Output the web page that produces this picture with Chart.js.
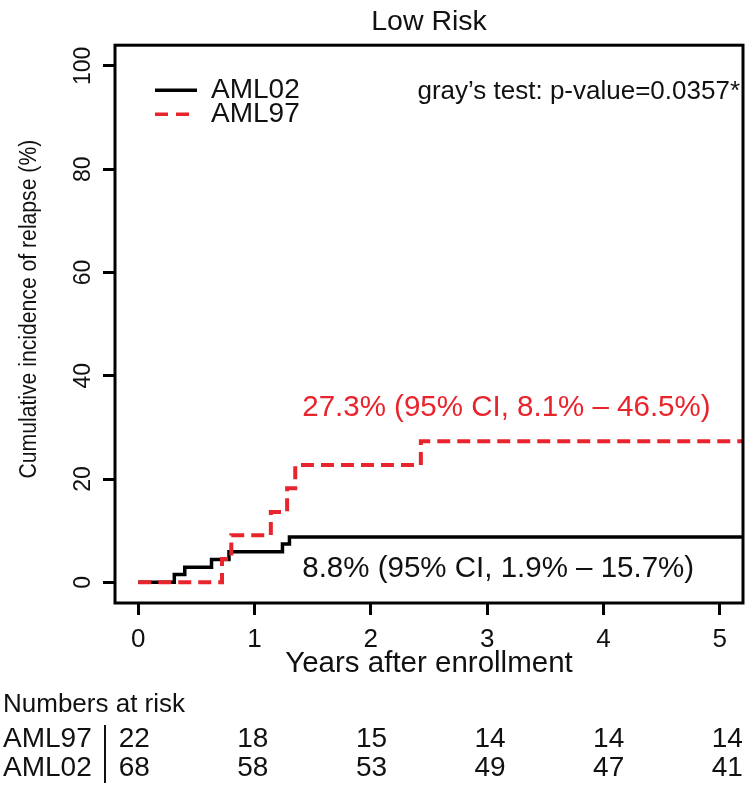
<!DOCTYPE html>
<html>
<head>
<meta charset="utf-8">
<title>Low Risk</title>
<script src="https://cdn.jsdelivr.net/npm/chart.js@4.4.1/dist/chart.umd.min.js"></script>
<style>
  html, body { margin: 0; padding: 0; background: #fff; }
  canvas { display: block; }
</style>
</head>
<body>
<canvas id="grafico" width="748" height="785"></canvas>
<script>
// ===== Dados =====
const yearTicks = [0, 1, 2, 3, 4, 5];
const pctTicks = [0, 20, 40, 60, 80, 100];

const yearsAML02 = [0, 0.31, 0.40, 0.63, 0.78, 1.24, 1.30, 5.2];
const cumIncAML02 = [0, 1.5, 2.9, 4.4, 5.9, 7.4, 8.8, 8.8];

const yearsAML97 = [0, 0.72, 0.80, 1.14, 1.28, 1.35, 2.43, 5.2];
const cumIncAML97 = [0, 4.5, 9.1, 13.6, 18.2, 22.7, 27.3, 27.3];

const riskTimes = [0, 1, 2, 3, 4, 5];
const atRiskAML97 = [22, 18, 15, 14, 14, 14];
const atRiskAML02 = [68, 58, 53, 49, 47, 41];

const FONT = '"Liberation Sans", Arial, Helvetica, sans-serif';
const RED = '#e8242c';

Chart.defaults.font.family = FONT;
Chart.defaults.color = '#111';

const toPoints = (xs, ys) => xs.map((t, i) => ({ x: t, y: ys[i] }));

// ===== Caixa, título do eixo y, legenda, anotações e tabela =====
const overlay = {
  id: 'overlay',
  afterDatasetsDraw(chart) {
    const { ctx, chartArea: a, scales: { x, y } } = chart;
    ctx.save();

    // caixa do gráfico
    ctx.strokeStyle = '#000';
    ctx.lineWidth = 3;
    ctx.strokeRect(a.left, a.top, a.right - a.left, a.bottom - a.top);

    // título do eixo y
    ctx.save();
    ctx.translate(30, (a.top + a.bottom) / 2 - 15);
    ctx.rotate(-Math.PI / 2);
    ctx.scale(0.92, 1);
    ctx.fillStyle = '#111';
    ctx.font = '23px ' + FONT;
    ctx.textAlign = 'center';
    ctx.textBaseline = 'middle';
    ctx.fillText('Cumulative incidence of relapse (%)', 0, 0);
    ctx.restore();

    // legenda
    const lx = a.left + 40, ly1 = a.top + 45, ly2 = a.top + 69;
    ctx.lineWidth = 3.5;
    ctx.strokeStyle = '#000';
    ctx.setLineDash([]);
    ctx.beginPath(); ctx.moveTo(lx, ly1); ctx.lineTo(lx + 42, ly1); ctx.stroke();
    ctx.strokeStyle = RED;
    ctx.setLineDash([13, 8]);
    ctx.beginPath(); ctx.moveTo(lx, ly2); ctx.lineTo(lx + 42, ly2); ctx.stroke();
    ctx.setLineDash([]);
    ctx.fillStyle = '#111';
    ctx.font = '28px ' + FONT;
    ctx.textBaseline = 'middle';
    ctx.textAlign = 'left';
    ctx.fillText('AML02', lx + 56, ly1);
    ctx.fillText('AML97', lx + 56, ly2);

    // teste de Gray
    ctx.font = '26px ' + FONT;
    ctx.textAlign = 'right';
    ctx.fillText('gray\u2019s test: p-value=0.0357*', a.right - 3, a.top + 47);

    // rótulos das curvas
    ctx.font = '29.5px ' + FONT;
    ctx.textAlign = 'left';
    ctx.fillStyle = RED;
    ctx.fillText('27.3% (95% CI, 8.1% \u2013 46.5%)', x.getPixelForValue(1.41), y.getPixelForValue(33.7));
    ctx.fillStyle = '#111';
    ctx.fillText('8.8% (95% CI, 1.9% \u2013 15.7%)', x.getPixelForValue(1.41), y.getPixelForValue(2.7));

    // tabela de pacientes em risco
    const r0 = a.bottom + 102, r1 = a.bottom + 136, r2 = a.bottom + 165;
    ctx.font = '26px ' + FONT;
    ctx.fillText('Numbers at risk', 3, r0);
    ctx.font = '28px ' + FONT;
    ctx.fillText('AML97', 3, r1);
    ctx.fillText('AML02', 3, r2);
    ctx.lineWidth = 2;
    ctx.strokeStyle = '#111';
    ctx.beginPath(); ctx.moveTo(a.left - 10, r1 - 14); ctx.lineTo(a.left - 10, r2 + 15); ctx.stroke();
    ctx.textAlign = 'center';
    riskTimes.forEach((t, i) => {
      const px = x.getPixelForValue(t) + 2.3 * t - 4;
      ctx.fillText(String(atRiskAML97[i]), px, r1);
      ctx.fillText(String(atRiskAML02[i]), px, r2);
    });

    ctx.restore();
  }
};

new Chart(document.getElementById('grafico').getContext('2d'), {
  type: 'line',
  data: {
    datasets: [
      {
        label: 'AML97',
        data: toPoints(yearsAML97, cumIncAML97),
        borderColor: RED,
        borderWidth: 4,
        borderDash: [13, 7],
        stepped: 'before',
        pointRadius: 0,
        fill: false
      },
      {
        label: 'AML02',
        data: toPoints(yearsAML02, cumIncAML02),
        borderColor: '#000',
        borderWidth: 3.5,
        stepped: 'before',
        pointRadius: 0,
        fill: false
      }
    ]
  },
  options: {
    responsive: false,
    animation: false,
    devicePixelRatio: 1,
    layout: { padding: { left: 0, right: 5, top: 0, bottom: 102 } },
    plugins: {
      legend: { display: false },
      tooltip: { enabled: false },
      title: {
        display: true,
        fullSize: false,
        text: 'Low Risk',
        color: '#111',
        font: { size: 28.5, weight: 'normal' },
        padding: { top: 5, bottom: 6 }
      }
    },
    scales: {
      x: {
        type: 'linear',
        min: -0.2,
        max: 5.2,
        afterBuildTicks: s => { s.ticks = yearTicks.map(v => ({ value: v })); },
        afterFit: s => { s.height = 80; },
        grid: { drawOnChartArea: false, drawTicks: true, tickLength: 12, tickWidth: 3, tickColor: '#000' },
        border: { display: false },
        ticks: { font: { size: 26 }, color: '#111', padding: 9, maxRotation: 0, autoSkip: false },
        title: {
          display: true,
          text: 'Years after enrollment',
          color: '#111',
          font: { size: 29.5 },
          padding: { top: 0, bottom: 1 }
        }
      },
      y: {
        type: 'linear',
        min: -4,
        max: 104,
        afterBuildTicks: s => { s.ticks = pctTicks.map(v => ({ value: v })); },
        afterFit: s => { s.width = 115; },
        grid: { drawOnChartArea: false, drawTicks: true, tickLength: 12, tickWidth: 3, tickColor: '#000' },
        border: { display: false },
        ticks: { font: { size: 23 }, color: '#111', padding: 0, minRotation: 90, maxRotation: 90, crossAlign: 'center', autoSkip: false }
      }
    }
  },
  plugins: [overlay]
});
</script>
</body>
</html>
